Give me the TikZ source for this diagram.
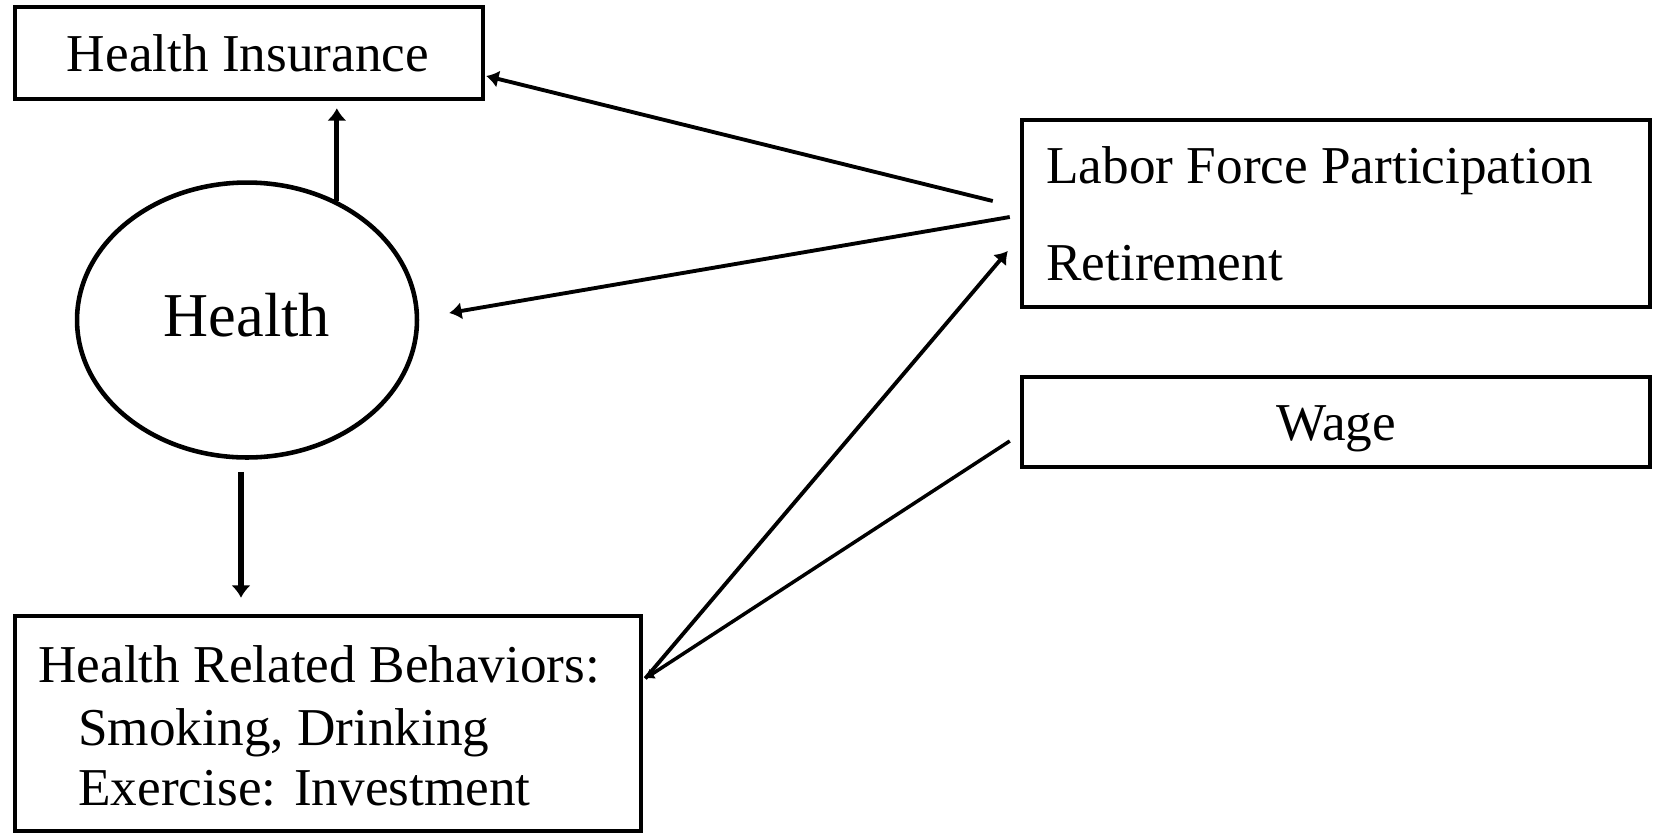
\documentclass[tikz,border=0pt]{standalone}
\usepackage{fontspec}
\setmainfont{Liberation Serif}
\usetikzlibrary{arrows.meta,calc,shapes.geometric}
\begin{document}
\begin{tikzpicture}[x=0.02cm,y=-0.02cm,
  boxnode/.style={draw,line width=2.6pt,rectangle,inner sep=0pt},
  txt/.style={font=\fontsize{30.3}{36}\selectfont,inner sep=0pt},
  bigtxt/.style={font=\fontsize{35.5}{42}\selectfont,inner sep=0pt},
  vlink/.style={line width=3pt,-{Latex[length=7pt,width=11pt]}},
  dlink/.style={line width=2.2pt,-{Latex[length=7pt,width=10pt]}},
  plainlink/.style={line width=2pt}]
\useasboundingbox (0,0) rectangle (1656,833);
% boxes
\node[boxnode,minimum width=9.36cm,minimum height=1.84cm] (hi) at (249,53) {};
\node[txt,anchor=base] (hit) at (248,71) {Health Insurance};
\node[draw,ellipse,line width=2.6pt,minimum width=6.8cm,minimum height=5.5cm,inner sep=0pt] (health) at (247,320) {};
\node[bigtxt,anchor=base] (healtht) at (247,336) {Health};
\node[boxnode,minimum width=12.52cm,minimum height=4.3cm] (beh) at (328,723.5) {};
\node[txt,anchor=base west] (beh1) at (38,682) {Health Related Behaviors:};
\node[txt,anchor=base west] (beh2) at (78,745) {Smoking, Drinking};
\node[txt,anchor=base west] (beh3) at (78,805) {Exercise: Investment};
\node[boxnode,minimum width=12.56cm,minimum height=3.74cm] (lab) at (1336,213.5) {};
\node[txt,anchor=base west] (lab1) at (1046,183) {Labor Force Participation};
\node[txt,anchor=base west] (lab2) at (1046,280) {Retirement};
\node[boxnode,minimum width=12.56cm,minimum height=1.8cm] (wage) at (1336,422) {};
\node[txt,anchor=base] (waget) at (1336,440) {Wage};
% connectors
\draw[vlink] (health.53) -- ($(health.53 |- hi.south)+(0,7)$);
\draw[vlink] ($(health.south)+(-6,12)$) -- ($(beh.north -| health.south)+(-6,-16)$);
\draw[dlink] ($(lab.west)+(-27,-12.5)$) -- ($(hi.east)+(1,23)$);
\draw[dlink] ($(lab.west)+(-10,3.5)$) -- ($(health.east)+(30,-7)$);
\draw[dlink] ($(beh.east)+(2,-45)$) -- ($(lab.west)+(-12,37.5)$);
\draw[plainlink,-{Latex[length=5pt,width=7pt]}] ($(wage.west)+(-10,19)$) -- ($(beh.east)+(2,-45)$);
\end{tikzpicture}
\end{document}
